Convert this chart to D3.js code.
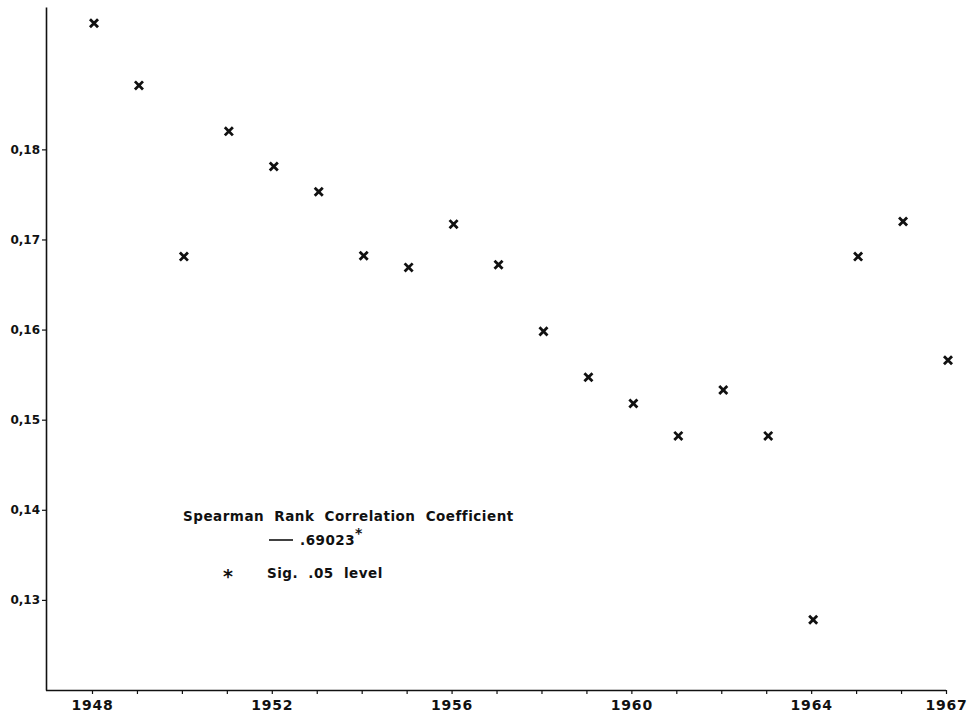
<!DOCTYPE html>
<html>
<head>
<meta charset="utf-8">
<script src="https://cdn.jsdelivr.net/npm/d3@7"></script>
<style>
  body { margin: 0; background: #fff; }
  svg text { font-family: "DejaVu Sans", sans-serif; font-weight: bold; fill: #111; }
</style>
</head>
<body>
<div id="chart"></div>
<script>
// values, one per year
const years = [1948, 1949, 1950, 1951, 1952, 1953, 1954, 1955, 1956, 1957,
               1958, 1959, 1960, 1961, 1962, 1963, 1964, 1965, 1966, 1967];
const values = [0.1940, 0.1871, 0.1681, 0.1820, 0.1781, 0.1753, 0.1682, 0.1669, 0.1717, 0.1672,
                0.1598, 0.1547, 0.1518, 0.1482, 0.1533, 0.1482, 0.1278, 0.1681, 0.1720, 0.1566];
const xTickLabels = [1948, 1952, 1956, 1960, 1964, 1967];
const yTickValues = [0.13, 0.14, 0.15, 0.16, 0.17, 0.18];
const legendTitle = "Spearman Rank Correlation Coefficient";
const legendValue = ".69023";
const legendNote = "Sig. .05 level";

const width = 980, height = 719;

const x = d3.scaleLinear().domain([1948, 1967]).range([92, 946]);
const y = d3.scaleLinear().domain([0.12, 0.1958]).range([690, 7]);

const svg = d3.select("#chart").append("svg")
    .attr("width", width)
    .attr("height", height);

// y axis
const yAxis = svg.append("g")
    .attr("transform", `translate(46,0)`)
    .call(d3.axisLeft(y).tickValues(yTickValues).tickSize(4).tickSizeOuter(0).tickPadding(2));
yAxis.select(".domain").attr("stroke", "#111").attr("stroke-width", 1.6);
yAxis.selectAll(".tick line").attr("stroke", "#111").attr("stroke-width", 1.2);
yAxis.selectAll(".tick text")
    .attr("font-size", 12)
    .attr("font-family", "DejaVu Sans, sans-serif")
    .attr("font-weight", "bold")
    .text(d => d3.format(".2f")(d).replace(".", ","));

// x axis: tick every year, labels on a few
const xAxis = svg.append("g")
    .attr("transform", `translate(0,690)`)
    .call(d3.axisBottom(x).tickValues(years).tickSize(4).tickSizeOuter(0).tickPadding(6)
        .tickFormat(d => xTickLabels.includes(d) ? d : ""));
xAxis.select(".domain").attr("stroke", "#111").attr("stroke-width", 1.4)
    .attr("d", `M46,0.5H${x(1967)}`);
xAxis.selectAll(".tick line").attr("stroke", "#111").attr("stroke-width", 1.2);
xAxis.selectAll(".tick text")
    .attr("font-size", 14)
    .attr("font-family", "DejaVu Sans, sans-serif")
    .attr("font-weight", "bold")
    .attr("letter-spacing", 0.8);

// points as x marks
const marker = d3.symbol().type(d3.symbolTimes).size(44);
svg.append("g")
    .selectAll("path")
    .data(years.map((yr, i) => ({ year: yr, value: values[i] })))
    .join("path")
    .attr("transform", d => `translate(${x(d.year) + 2},${y(d.value)})`)
    .attr("d", marker)
    .attr("fill", "none")
    .attr("stroke", "#111")
    .attr("stroke-width", 2.8);

// legend
const legend = svg.append("g").attr("font-size", 13.5).attr("letter-spacing", 0.5)
    .attr("word-spacing", 5);
legend.append("text").attr("x", 183).attr("y", 521).text(legendTitle);
legend.append("line")
    .attr("x1", 269).attr("x2", 293).attr("y1", 540).attr("y2", 540)
    .attr("stroke", "#111").attr("stroke-width", 1.6);
const v = legend.append("text").attr("x", 300).attr("y", 545);
v.append("tspan").text(legendValue);
v.append("tspan").attr("dy", -7).attr("font-size", 14).text("*");
legend.append("text").attr("x", 223).attr("y", 583).attr("font-size", 19).text("*");
legend.append("text").attr("x", 267).attr("y", 578).text(legendNote);
</script>
</body>
</html>
